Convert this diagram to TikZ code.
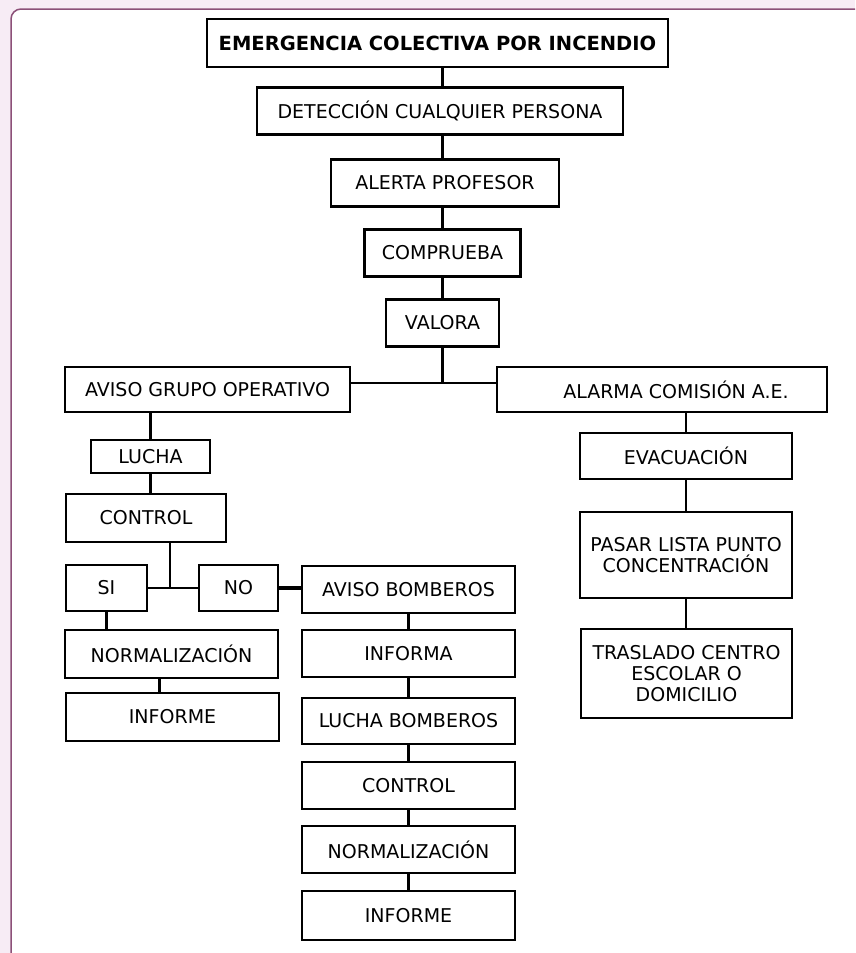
\documentclass[tikz,border=0pt]{standalone}
\usepackage{fontspec}
\setmainfont{DejaVu Sans}
\definecolor{fondo}{RGB}{247,236,245}
\definecolor{marco}{RGB}{140,80,120}
\tikzset{
  caja/.style={draw, line width=2.3pt, inner sep=2pt, align=center, font=\fontsize{19}{21}\selectfont},
  enlace/.style={line width=2.3pt},
}
\begin{document}
\begin{tikzpicture}[x=1pt, y=-1pt]
    \useasboundingbox (0,0) rectangle (855,953);
    \fill[fondo] (0,0) rectangle (855,953);
    \fill[white] (11,953) [rounded corners=10pt] -- (11,9) [sharp corners] -- (855,9) -- (855,953) -- cycle;
    \draw[marco, line width=1.5pt] (11,953) [rounded corners=10pt] -- (11,9) [sharp corners] -- (855,9);

    \node[caja, minimum width=461pt, minimum height=48pt] (emerg) at (437.5,43) {\fontsize{19.5}{21}\selectfont\bfseries EMERGENCIA COLECTIVA POR INCENDIO};
    \node[caja, minimum width=366pt, minimum height=47pt] (detec) at (440,111) {DETECCIÓN CUALQUIER PERSONA};
    \node[caja, minimum width=228pt, minimum height=47pt] (alerta) at (445,183) {ALERTA PROFESOR};
    \node[caja, minimum width=156pt, minimum height=47pt] (compr) at (442.5,253) {COMPRUEBA};
    \node[caja, minimum width=113pt, minimum height=47pt] (valora) at (442.5,323) {VALORA};

    \node[caja, minimum width=285pt, minimum height=45pt] (aviso) at (207.5,389.5) {AVISO GRUPO OPERATIVO};
    \node[caja, minimum width=330pt, minimum height=45pt] (alarma) at (662,389.5) {\hspace*{28pt}ALARMA COMISIÓN A.E.};
    \coordinate (cruce) at (442.5,383);

    \node[caja, minimum width=119pt, minimum height=33pt] (lucha) at (150.5,456.5) {LUCHA};
    \node[caja, minimum width=160pt, minimum height=48pt] (control) at (146,518) {CONTROL};
    \coordinate (cruce2) at (170,588);
    \node[caja, minimum width=81pt, minimum height=46pt] (si) at (106.5,588) {SI};
    \node[caja, minimum width=79pt, minimum height=46pt] (no) at (238.5,588) {NO};
    \node[caja, minimum width=213pt, minimum height=48pt] (norma) at (171.5,654) {NORMALIZACIÓN};
    \node[caja, minimum width=213pt, minimum height=48pt] (informe) at (172.5,717) {INFORME};

    \node[caja, minimum width=213pt, minimum height=47pt] (bomb) at (408.5,589.5) {AVISO BOMBEROS};
    \node[caja, minimum width=213pt, minimum height=47pt] (informa) at (408.5,653.5) {INFORMA};
    \node[caja, minimum width=213pt, minimum height=46pt] (luchab) at (408.5,721) {LUCHA BOMBEROS};
    \node[caja, minimum width=213pt, minimum height=47pt] (controlb) at (408.5,785.5) {CONTROL};
    \node[caja, minimum width=213pt, minimum height=47pt] (normab) at (408.5,849.5) {NORMALIZACIÓN};
    \node[caja, minimum width=213pt, minimum height=49pt] (informeb) at (408.5,915.5) {INFORME};

    \node[caja, minimum width=212pt, minimum height=46pt] (evac) at (686,456) {EVACUACIÓN};
    \node[caja, minimum width=212pt, minimum height=86pt] (pasar) at (686,555) {PASAR LISTA PUNTO\\CONCENTRACIÓN};
    \node[caja, minimum width=211pt, minimum height=89pt] (traslado) at (686.5,673.5) {TRASLADO CENTRO\\ESCOLAR O\\DOMICILIO};

    \draw[enlace] (detec.north -| valora) -- (emerg.south -| valora);
    \draw[enlace] (detec.south -| valora) -- (alerta.north -| valora);
    \draw[enlace] (alerta.south -| valora) -- (compr.north -| valora);
    \draw[enlace] (compr.south -| valora) -- (valora.north);
    \draw[enlace] (valora.south) -- (cruce);
    \draw[enlace] (aviso.east |- cruce) -- (alarma.west |- cruce);

    \draw[enlace] (lucha.north) -- (lucha.north |- aviso.south);
    \draw[enlace] (lucha.south) -- (lucha.south |- control.north);
    \draw[enlace] (cruce2 |- control.south) -- (cruce2);
    \draw[enlace] (si.east) -- (no.west);
    \draw[enlace, line width=3.2pt] (no.east) -- (bomb.west |- no.east);
    \draw[enlace] (si.south) -- (si.south |- norma.north);
    \draw[enlace] ([xshift=-12pt]norma.south) -- ([xshift=-12pt]norma.south |- informe.north);

    \draw[enlace] (bomb) -- (informa) -- (luchab) -- (controlb) -- (normab) -- (informeb);

    \draw[enlace] (evac.north) -- (evac.north |- alarma.south);
    \draw[enlace] (evac.south) -- (pasar.north);
    \draw[enlace] (pasar.south) -- (traslado.north -| pasar.south);
\end{tikzpicture}
\end{document}
